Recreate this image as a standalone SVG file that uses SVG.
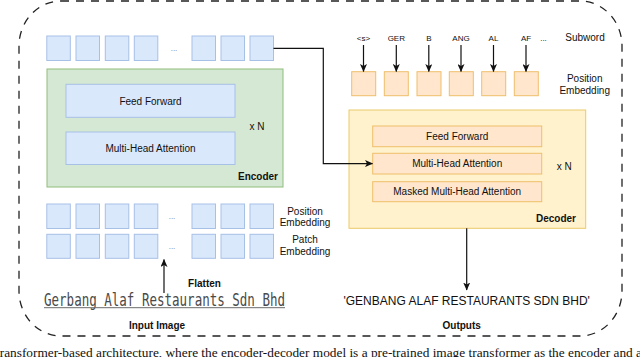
<svg xmlns="http://www.w3.org/2000/svg" width="640" height="357" viewBox="0 0 640 357">
<defs>
<style>
text{font-family:"Liberation Sans",Arial,sans-serif;fill:#111}
.t10{font-size:10px}
.b10{font-size:10px;font-weight:bold}
.sub{font-size:8px}
.dots{font-size:8px;fill:#777}
.blue{fill:#dae8fc;stroke:#a7c0e6;stroke-width:1}
.green{fill:#d5e8d4;stroke:#8fbc7b;stroke-width:1}
.yellow{fill:#fff2cc;stroke:#ecca6a;stroke-width:1}
.orange{fill:#ffe6cc;stroke:#efbe6b;stroke-width:1}
.conn{fill:none;stroke:#111;stroke-width:1.2}
</style>
<marker id="arr" viewBox="0 0 8 7" refX="7.5" refY="3.5" markerWidth="8" markerHeight="7" markerUnits="userSpaceOnUse" orient="auto">
<path d="M0,0 L8,3.5 L0,7 L2,3.5 z" fill="#111"/>
</marker>
</defs>

<rect x="0" y="0" width="640" height="357" fill="#fff"/>

<g id="frame">
<rect x="19" y="1" width="603" height="335" rx="42" ry="45" fill="none" stroke="#222" stroke-width="1.3" stroke-dasharray="8 7"/>
</g>

<g id="encoder-tokens">
<rect class="blue" x="46.8" y="36" width="23.5" height="24.5"/>
<rect class="blue" x="76" y="36" width="23.5" height="24.5"/>
<rect class="blue" x="105.3" y="36" width="23.5" height="24.5"/>
<rect class="blue" x="134.3" y="36" width="23.5" height="24.5"/>
<text class="dots" x="174" y="51" text-anchor="middle">...</text>
<rect class="blue" x="192" y="36" width="23.5" height="24.5"/>
<rect class="blue" x="221" y="36" width="23.5" height="24.5"/>
<rect class="blue" x="250" y="36" width="23.5" height="24.5"/>
</g>

<g id="encoder">
<rect class="green" x="47" y="69" width="236" height="118"/>
<text class="b10" x="278" y="180.3" text-anchor="end">Encoder</text>
<text class="t10" x="257" y="129.6" text-anchor="middle">x N</text>
</g>
<g id="enc-feed-forward">
<rect class="blue" x="66" y="84.3" width="169" height="33"/>
<text class="t10" x="150.5" y="104.6" text-anchor="middle">Feed Forward</text>
</g>
<g id="enc-mha">
<rect class="blue" x="66" y="132" width="169" height="32.5"/>
<text class="t10" x="150.5" y="152" text-anchor="middle">Multi-Head Attention</text>
</g>

<g id="position-embedding-enc">
<rect class="blue" x="46.8" y="204" width="23.5" height="24.5"/>
<rect class="blue" x="76" y="204" width="23.5" height="24.5"/>
<rect class="blue" x="105.3" y="204" width="23.5" height="24.5"/>
<rect class="blue" x="134.3" y="204" width="23.5" height="24.5"/>
<text class="dots" x="172" y="219" text-anchor="middle">...</text>
<rect class="blue" x="192" y="204" width="23.5" height="24.5"/>
<rect class="blue" x="221" y="204" width="23.5" height="24.5"/>
<rect class="blue" x="250" y="204" width="23.5" height="24.5"/>
<text class="t10" x="305" y="214.6" text-anchor="middle">Position</text>
<text class="t10" x="305" y="226.3" text-anchor="middle">Embedding</text>
</g>

<g id="patch-embedding">
<rect class="blue" x="46.8" y="234.3" width="23.5" height="24"/>
<rect class="blue" x="76" y="234.3" width="23.5" height="24"/>
<rect class="blue" x="105.3" y="234.3" width="23.5" height="24"/>
<rect class="blue" x="134.3" y="234.3" width="23.5" height="24"/>
<text class="dots" x="172" y="249" text-anchor="middle">...</text>
<rect class="blue" x="192" y="234.3" width="23.5" height="24"/>
<rect class="blue" x="221" y="234.3" width="23.5" height="24"/>
<rect class="blue" x="250" y="234.3" width="23.5" height="24"/>
<text class="t10" x="305" y="243" text-anchor="middle">Patch</text>
<text class="t10" x="305" y="255.3" text-anchor="middle">Embedding</text>
</g>

<g id="input-image">
<text x="44" y="306" font-family="'DejaVu Sans Mono','Liberation Mono',monospace" font-size="17" style="font-family:'DejaVu Sans Mono','Liberation Mono',monospace;fill:#4a4a4a" textLength="241" lengthAdjust="spacingAndGlyphs">Gerbang Alaf Restaurants Sdn Bhd</text>
<line x1="44" y1="307.7" x2="285" y2="307.7" stroke="#6a6a6a" stroke-width="1"/>
<text class="b10" x="157" y="329.3" text-anchor="middle">Input Image</text>
<text class="b10" x="204.5" y="287" text-anchor="middle">Flatten</text>
</g>

<g id="subwords">
<text class="sub" x="363.5" y="40.6" text-anchor="middle">&lt;s&gt;</text>
<text class="sub" x="396.3" y="40.6" text-anchor="middle">GER</text>
<text class="sub" x="428.8" y="40.6" text-anchor="middle">B</text>
<text class="sub" x="461" y="40.6" text-anchor="middle">ANG</text>
<text class="sub" x="493.5" y="40.6" text-anchor="middle">AL</text>
<text class="sub" x="526" y="40.6" text-anchor="middle">AF</text>
<text class="sub" x="543.5" y="40.6" text-anchor="middle">...</text>
<text class="t10" x="585" y="41.3" text-anchor="middle">Subword</text>
</g>

<g id="position-embedding-dec">
<rect class="orange" x="351.7" y="71.7" width="24" height="24"/>
<rect class="orange" x="384.3" y="71.7" width="24" height="24"/>
<rect class="orange" x="417" y="71.7" width="24" height="24"/>
<rect class="orange" x="449.3" y="71.7" width="24" height="24"/>
<rect class="orange" x="481.7" y="71.7" width="24" height="24"/>
<rect class="orange" x="514.3" y="71.7" width="24" height="24"/>
<text class="t10" x="584.7" y="82" text-anchor="middle">Position</text>
<text class="t10" x="584.7" y="93.6" text-anchor="middle">Embedding</text>
</g>

<g id="decoder">
<rect class="yellow" x="349" y="110" width="236.7" height="118.3"/>
<text class="b10" x="576" y="222" text-anchor="end">Decoder</text>
<text class="t10" x="564.3" y="170.3" text-anchor="middle">x N</text>
</g>
<g id="dec-feed-forward">
<rect class="orange" x="372.7" y="126" width="169" height="20.7"/>
<text class="t10" x="457.2" y="140" text-anchor="middle">Feed Forward</text>
</g>
<g id="dec-mha">
<rect class="orange" x="372.7" y="153.3" width="169" height="20.7"/>
<text class="t10" x="457.2" y="167.3" text-anchor="middle">Multi-Head Attention</text>
</g>
<g id="dec-masked-mha">
<rect class="orange" x="372.7" y="181.7" width="169" height="20"/>
<text class="t10" x="457.2" y="195.3" text-anchor="middle">Masked Multi-Head Attention</text>
</g>

<g id="outputs">
<text x="466.7" y="305.3" font-size="12" text-anchor="middle">'GENBANG ALAF RESTAURANTS SDN BHD'</text>
<text class="b10" x="461.7" y="329.3" text-anchor="middle">Outputs</text>
</g>

<g id="connectors">
<path class="conn" d="M273.5,48.3 H323.3 V163.6 H372.5" marker-end="url(#arr)"/>
<path class="conn" d="M164,293 V259.5" marker-end="url(#arr)"/>
<path class="conn" d="M466.7,228.3 V290" marker-end="url(#arr)"/>
<path class="conn" d="M363.5,45 V71.5" marker-end="url(#arr)"/>
<path class="conn" d="M396.3,45 V71.5" marker-end="url(#arr)"/>
<path class="conn" d="M428.8,45 V71.5" marker-end="url(#arr)"/>
<path class="conn" d="M461,45 V71.5" marker-end="url(#arr)"/>
<path class="conn" d="M493.5,45 V71.5" marker-end="url(#arr)"/>
<path class="conn" d="M526,45 V71.5" marker-end="url(#arr)"/>
</g>

<g id="caption">
<text x="-4" y="356.5" font-size="13.5" textLength="646" lengthAdjust="spacingAndGlyphs" style="font-family:'Liberation Serif','Times New Roman',serif">transformer-based architecture, where the encoder-decoder model is a pre-trained image transformer as the encoder and a</text>
</g>
</svg>
